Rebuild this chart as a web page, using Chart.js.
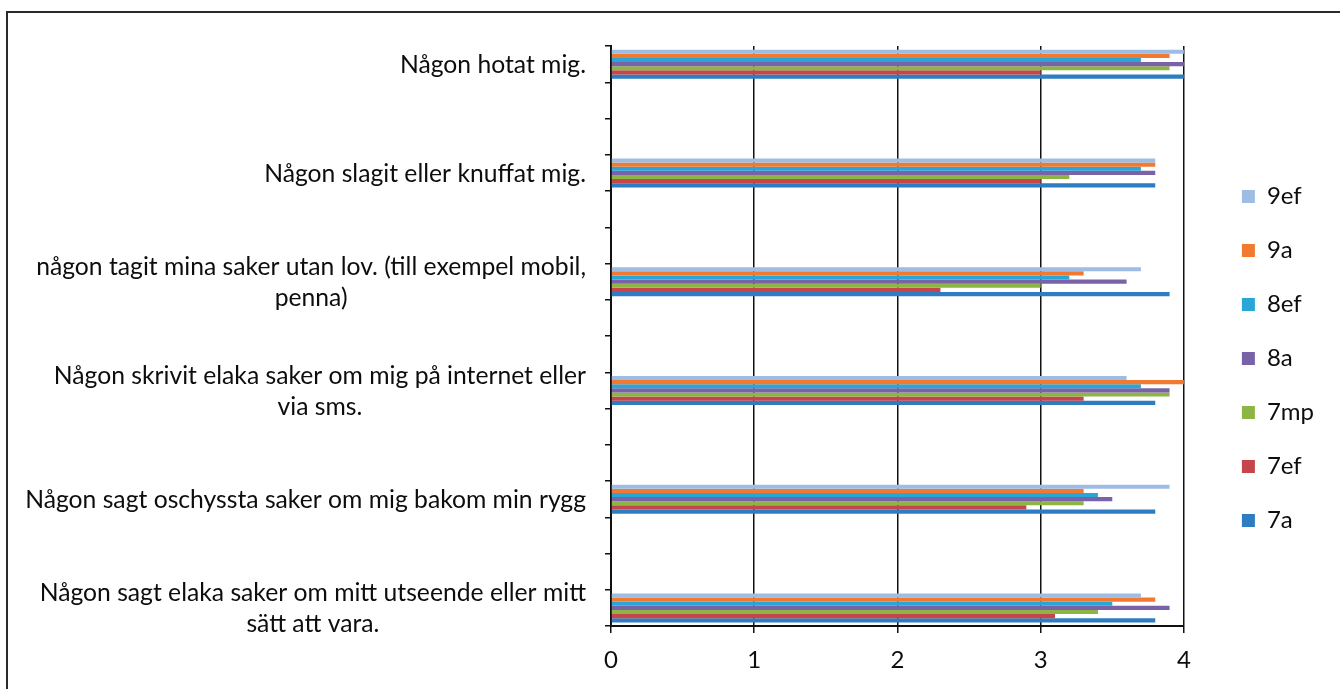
<!DOCTYPE html>
<html>
<head>
<meta charset="utf-8">
<script src="https://cdn.jsdelivr.net/npm/chart.js@4.4.1/dist/chart.umd.min.js"></script>
<style>
  html, body { margin: 0; padding: 0; background: #fff; }
  #wrap { position: relative; width: 1340px; height: 689px; overflow: hidden; }
  #marco { position: absolute; left: 6px; top: 11px; width: 1400px; height: 800px; border: 2px solid #2a2a2a; }
  canvas { position: absolute; left: 0; top: 0; }
</style>
</head>
<body>
<div id="wrap">
  <div id="marco"></div>
  <canvas id="grafico" width="1340" height="689"></canvas>
</div>
<script>
// categorias de arriba hacia abajo (cada linea es un renglon de la etiqueta)
const categorias = [
  ["Någon hotat mig."],
  ["Någon slagit eller knuffat mig."],
  ["någon tagit mina saker utan lov. (till exempel mobil,", "penna)"],
  ["Någon skrivit elaka saker om mig på internet eller", "via sms."],
  ["Någon sagt oschyssta saker om mig bakom min rygg"],
  ["Någon sagt elaka saker om mitt utseende eller mitt", "sätt att vara."]
];

const series = ["9ef", "9a", "8ef", "8a", "7mp", "7ef", "7a"];

const valores9ef = [4.0, 3.8, 3.7, 3.6, 3.9, 3.7];
const valores9a  = [3.9, 3.8, 3.3, 4.0, 3.3, 3.8];
const valores8ef = [3.7, 3.7, 3.2, 3.7, 3.4, 3.5];
const valores8a  = [4.0, 3.8, 3.6, 3.9, 3.5, 3.9];
const valores7mp = [3.9, 3.2, 3.0, 3.9, 3.3, 3.4];
const valores7ef = [3.0, 3.0, 2.3, 3.3, 2.9, 3.1];
const valores7a  = [4.0, 3.8, 3.9, 3.8, 3.8, 3.8];

const ticksX = [0, 1, 2, 3, 4];

const colores = ['#9DBDE4', '#F27A30', '#29A6D8', '#7A62A8', '#8CB543', '#C4454A', '#2E7CC2'];

// en el original hay filas vacias entre los grupos
const pasoGrupo = 3;
const totalFilas = 16;

document.addEventListener("DOMContentLoaded", () => {

    const grafico = document.querySelector("#grafico");
    const fuente = 'Lato';

    const todosValores = [valores9ef, valores9a, valores8ef, valores8a, valores7mp, valores7ef, valores7a];

    let filas = [];
    for (let i = 0; i < totalFilas; i++) filas.push('');
    categorias.forEach((c, i) => { filas[i * pasoGrupo] = c.join(' '); });

    const datasets = series.map((nombre, s) => {
        let data = filas.map(() => null);
        todosValores[s].forEach((v, i) => { data[i * pasoGrupo] = v; });
        return {
            label: nombre,
            data: data,
            backgroundColor: colores[s],
            borderWidth: 0,
            categoryPercentage: 0.8,
            barPercentage: 1.0
        };
    });

    // etiquetas del eje y: bloque alineado a la derecha, renglones centrados
    const etiquetasY = {
        id: 'etiquetasY',
        afterDraw(chart) {
            const {ctx} = chart;
            const y = chart.scales.y;
            ctx.save();
            ctx.font = '24.7px ' + fuente;
            ctx.fillStyle = '#0d0d0d';
            ctx.textAlign = 'center';
            ctx.textBaseline = 'middle';
            const derecha = y.right - 25;
            const alto = 31;
            categorias.forEach((lineas, i) => {
                const yc = y.getPixelForValue(i * pasoGrupo) + 1;
                const ancho = Math.max(...lineas.map(l => ctx.measureText(l).width));
                const x = derecha - ancho / 2;
                lineas.forEach((l, k) => {
                    ctx.fillText(l, x, yc + (k - (lineas.length - 1) / 2) * alto);
                });
            });
            ctx.restore();
        }
    };

    new Chart(grafico, {
        type: 'bar',
        data: {
            labels: filas,
            datasets: datasets
        },
        options: {
            indexAxis: 'y',
            responsive: false,
            animation: false,
            devicePixelRatio: 1,
            layout: { padding: { top: 46, bottom: 18, left: 0, right: 16 } },
            scales: {
                x: {
                    type: 'linear',
                    min: 0,
                    max: 4,
                    afterBuildTicks(s) { s.ticks = ticksX.map(v => ({ value: v })); },
                    afterFit(s) { s.height = 45; },
                    grid: { color: '#111', lineWidth: 1.5, tickLength: 7 },
                    border: { color: '#111', width: 2 },
                    ticks: { color: '#0d0d0d', padding: 13, font: { family: fuente, size: 24 } }
                },
                y: {
                    type: 'category',
                    offset: true,
                    afterFit(s) { s.width = 611; },
                    grid: { offset: true, drawOnChartArea: false, tickLength: 6, color: '#111', lineWidth: 1.5 },
                    border: { color: '#111', width: 2 },
                    ticks: { display: false }
                },
                hueco: {
                    type: 'linear',
                    axis: 'y',
                    position: 'right',
                    afterFit(s) { s.width = 28; },
                    grid: { display: false },
                    border: { display: false },
                    ticks: { display: false }
                }
            },
            plugins: {
                tooltip: { enabled: false },
                legend: {
                    position: 'right',
                    align: 'center',
                    labels: {
                        boxWidth: 13,
                        boxHeight: 13,
                        padding: 30,
                        color: '#0d0d0d',
                        font: { family: fuente, size: 24 }
                    }
                }
            }
        },
        plugins: [etiquetasY]
    });

});
</script>
</body>
</html>
